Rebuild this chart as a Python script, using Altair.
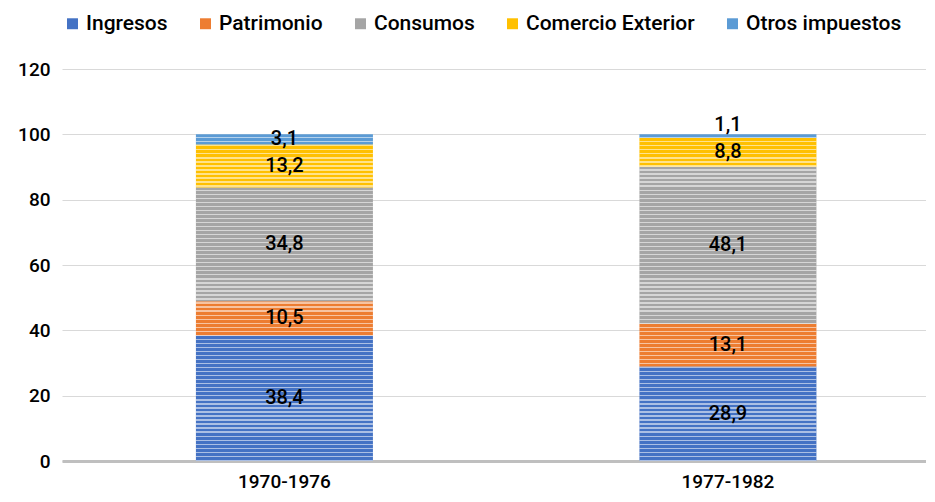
import altair as alt
import pandas as pd

periods = ["1970-1976", "1977-1982"]
series = ["Ingresos", "Patrimonio", "Consumos", "Comercio Exterior", "Otros impuestos"]
vals_1970 = [38.4, 10.5, 34.8, 13.2, 3.1]
vals_1977 = [28.9, 13.1, 48.1, 8.8, 1.1]
colors = ["#4472C4", "#ED7D31", "#A5A5A5", "#FFC000", "#5B9BD5"]
y_ticks = [0, 20, 40, 60, 80, 100, 120]

rows = []
for p, vals in zip(periods, [vals_1970, vals_1977]):
    for i, (s, v) in enumerate(zip(series, vals)):
        rows.append({"period": p, "series": s, "value": v, "idx": i})
df = pd.DataFrame(rows)

FONT = "Roboto"
WEIGHT = 500

# horizontal stripe overlay (style only)
n_stripes = 81
stops = []
for k in range(n_stripes):
    a = k / n_stripes
    b = (k + 0.68) / n_stripes
    c = (k + 1) / n_stripes
    stops += [
        alt.GradientStop(offset=a, color="rgba(255,255,255,0)"),
        alt.GradientStop(offset=b, color="rgba(255,255,255,0)"),
        alt.GradientStop(offset=b, color="rgba(255,255,255,0.55)"),
        alt.GradientStop(offset=c, color="rgba(255,255,255,0.55)"),
    ]
stripe_fill = alt.Gradient(gradient="linear", stops=stops, x1=0, x2=0, y1=0, y2=1)

x_enc = alt.X(
    "period:N",
    sort=periods,
    title=None,
    scale=alt.Scale(paddingInner=0.6009, paddingOuter=0.2745, align=0.55),
    axis=alt.Axis(
        labelAngle=0, labelFontSize=19, labelFont=FONT, labelFontWeight=WEIGHT,
        labelColor="#000000",
        domainColor="#BFBFBF", domainWidth=3, ticks=False, labelPadding=11,
    ),
)
y_scale = alt.Scale(domain=[0, 120], nice=False)
y_axis = alt.Axis(
    values=y_ticks, title=None, domain=False, ticks=False, labelPadding=12,
    labelFontSize=19, labelFont=FONT, labelFontWeight=WEIGHT, labelColor="#000000",
    gridColor="#D9D9D9", gridWidth=1,
)

bars = alt.Chart(df).mark_bar().encode(
    x=x_enc,
    y=alt.Y("value:Q", stack="zero", scale=y_scale, axis=y_axis),
    color=alt.Color(
        "series:N",
        scale=alt.Scale(domain=series, range=colors),
        legend=alt.Legend(
            title=None, orient="none", direction="horizontal",
            legendX=0, legendY=-56,
            symbolType="square", symbolSize=120, symbolStrokeWidth=0,
            labelFont=FONT, labelFontSize=21, labelFontWeight=WEIGHT,
            labelColor="#000000", labelLimit=0,
            columnPadding=27, labelOffset=3,
        ),
    ),
    order=alt.Order("idx:Q", sort="ascending"),
)

stripes = alt.Chart(df).mark_bar(fill=stripe_fill, strokeWidth=0).encode(
    x=alt.X("period:N", sort=periods),
    y=alt.Y("sum(value):Q"),
)

labels = alt.Chart(df).transform_stack(
    stack="value", groupby=["period"], as_=["v0", "v1"],
    sort=[alt.SortField("idx", order="ascending")],
).transform_calculate(
    mid="datum.value < 2 ? datum.v1 + 2.9 : (datum.v0 + datum.v1) / 2",
    lab="replace(format(datum.value, '.1f'), '.', ',')",
).mark_text(font=FONT, fontSize=20, fontWeight=WEIGHT, color="#000000", baseline="middle").encode(
    x=alt.X("period:N", sort=periods),
    y=alt.Y("mid:Q"),
    text="lab:N",
)

chart = alt.layer(bars, stripes, labels).properties(
    width=864, height=392,
    autosize=alt.AutoSizeParams(type="none"),
    padding={"left": 54, "top": 61, "right": 0, "bottom": 33},
).configure_view(stroke=None)

chart.save("out.html", embed_options={"renderer": "svg", "actions": False})
